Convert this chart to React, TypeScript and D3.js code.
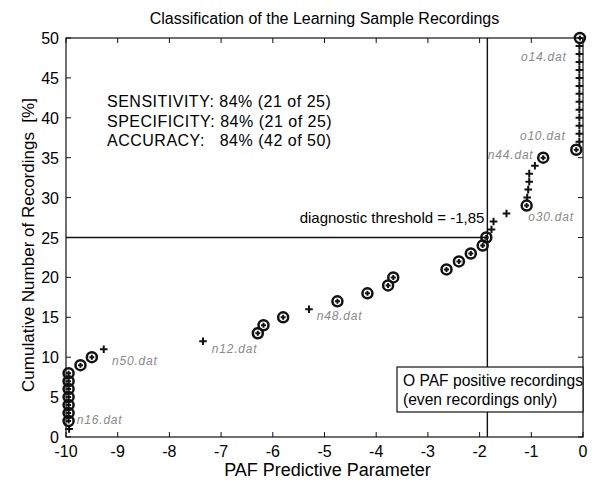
import * as d3 from 'd3';
import React from 'react';

// cumulative rank (1..50) is the position in this sorted list
const paramValues = [
  -9.94, -9.95, -9.95, -9.95, -9.95, -9.95, -9.95, -9.95, -9.72, -9.5,
  -9.27, -7.35, -6.29, -6.18, -5.8, -5.3, -4.75, -4.17, -3.77, -3.67,
  -2.64, -2.4, -2.17, -1.94, -1.87, -1.77, -1.73, -1.48, -1.09, -1.08,
  -1.06, -1.04, -1.04, -0.93, -0.77, -0.13, -0.07, -0.07, -0.07, -0.07,
  -0.07, -0.07, -0.07, -0.07, -0.07, -0.07, -0.07, -0.07, -0.07, -0.06,
];
// 1 = PAF positive (circled)
const positiveFlags = [
  0, 1, 1, 1, 1, 1, 1, 1, 1, 1,
  0, 0, 1, 1, 1, 0, 1, 1, 1, 1,
  1, 1, 1, 1, 1, 0, 0, 0, 1, 0,
  0, 0, 0, 0, 1, 1, 0, 0, 0, 0,
  0, 0, 0, 0, 0, 0, 0, 0, 0, 1,
];
const fileNames = ['n16.dat', 'n50.dat', 'n12.dat', 'n48.dat', 'o30.dat', 'n44.dat', 'o10.dat', 'o14.dat'];
const fileLabelX = [-9.79, -9.11, -7.18, -5.15, -1.06, -1.84, -1.22, -1.2];
const fileLabelY = [1.63, 9.05, 10.55, 14.7, 27.1, 34.8, 37.2, 47.1];

const xTicks = [-10, -9, -8, -7, -6, -5, -4, -3, -2, -1, 0];
const yTicks = [0, 5, 10, 15, 20, 25, 30, 35, 40, 45, 50];
const threshold = -1.85;
const thresholdCount = 25;
const statLines = [
  'SENSITIVITY: 84% (21 of 25)',
  'SPECIFICITY: 84% (21 of 25)',
  'ACCURACY:   84% (42 of 50)',
];

const W = 597;
const H = 482;
const font = 'Arial, "Liberation Sans", Helvetica, sans-serif';

export default function App() {
  const x = d3.scaleLinear().domain([-10, 0]).range([66, 583]);
  const y = d3.scaleLinear().domain([0, 50]).range([437, 38]);
  const [x0, x1] = x.range();
  const [yb, yt] = y.range();

  const pts = paramValues.map((v, i) => ({ v, rank: i + 1, pos: positiveFlags[i] === 1 }));
  const plus = (cx: number, cy: number, s: number) => `M${cx - s},${cy}H${cx + s}M${cx},${cy - s}V${cy + s}`;

  return (
    <svg width={W} height={H} style={{ position: 'absolute', left: 0, top: 0, background: '#fff' }}
      fontFamily={font}>
      <rect x={0} y={0} width={W} height={H} fill="#fff" />
      <text x={(x0 + x1) / 2} y={24} textAnchor="middle" fontSize={16} fill="#000">
        Classification of the Learning Sample Recordings
      </text>

      {/* axes box */}
      <rect x={x0} y={yt} width={x1 - x0} height={yb - yt} fill="none" stroke="#111" strokeWidth={1.2} />
      {xTicks.map(t => (
        <g key={'xt' + t}>
          <line x1={x(t)} x2={x(t)} y1={yb} y2={yb - 5} stroke="#111" />
          <line x1={x(t)} x2={x(t)} y1={yt} y2={yt + 5} stroke="#111" />
          <text x={x(t)} y={yb + 20} textAnchor="middle" fontSize={16} fill="#000">{t}</text>
        </g>
      ))}
      {yTicks.map(t => (
        <g key={'yt' + t}>
          <line x1={x0} x2={x0 + 5} y1={y(t)} y2={y(t)} stroke="#111" />
          <line x1={x1} x2={x1 - 5} y1={y(t)} y2={y(t)} stroke="#111" />
          <text x={x0 - 7} y={y(t) + 6} textAnchor="end" fontSize={16} fill="#000">{t}</text>
        </g>
      ))}
      <text x={(x0 + x1) / 2 + 3} y={476} textAnchor="middle" fontSize={18} fill="#000">PAF Predictive Parameter</text>
      <text transform={`translate(34,245) rotate(-90)`} textAnchor="middle" fontSize={17} fill="#000"
        style={{ whiteSpace: 'pre' }}>
        Cumulative Number of Recordings  [%]
      </text>

      {/* diagnostic threshold */}
      <line x1={x(threshold)} x2={x(threshold)} y1={yb} y2={yt} stroke="#111" strokeWidth={1.4} />
      <line x1={x0} x2={x(threshold)} y1={y(thresholdCount)} y2={y(thresholdCount)} stroke="#111" strokeWidth={1.4} />
      <text x={x(threshold) - 3} y={y(thresholdCount) - 15} textAnchor="end" fontSize={15} fill="#000">
        diagnostic threshold = -1,85
      </text>

      {statLines.map((s, i) => (
        <text key={s} x={107} y={107 + i * 19.5} fontSize={16} letterSpacing={0.5} fill="#000"
          style={{ whiteSpace: 'pre' }}>{s}</text>
      ))}

      {/* file labels */}
      {fileNames.map((n, i) => (
        <text key={n} x={x(fileLabelX[i])} y={y(fileLabelY[i])} fontSize={12} fontStyle="italic"
          letterSpacing={0.8} fill="#8a8a8a">{n}</text>
      ))}

      {/* markers */}
      {pts.map(p => (
        <g key={p.rank}>
          <path d={plus(x(p.v), y(p.rank), p.pos ? 2.5 : 3.8)} stroke="#111" strokeWidth={2} fill="none" />
          {p.pos && <circle cx={x(p.v)} cy={y(p.rank)} r={5} fill="none" stroke="#111" strokeWidth={2.5} />}
        </g>
      ))}

      {/* legend */}
      <rect x={397} y={367} width={x1 - 397} height={45} fill="#fff" stroke="#111" strokeWidth={1.2} />
      <text x={403} y={386} fontSize={15.6} fill="#000">O PAF positive recordings</text>
      <text x={403} y={405} fontSize={15.6} fill="#000">(even recordings only)</text>
    </svg>
  );
}
